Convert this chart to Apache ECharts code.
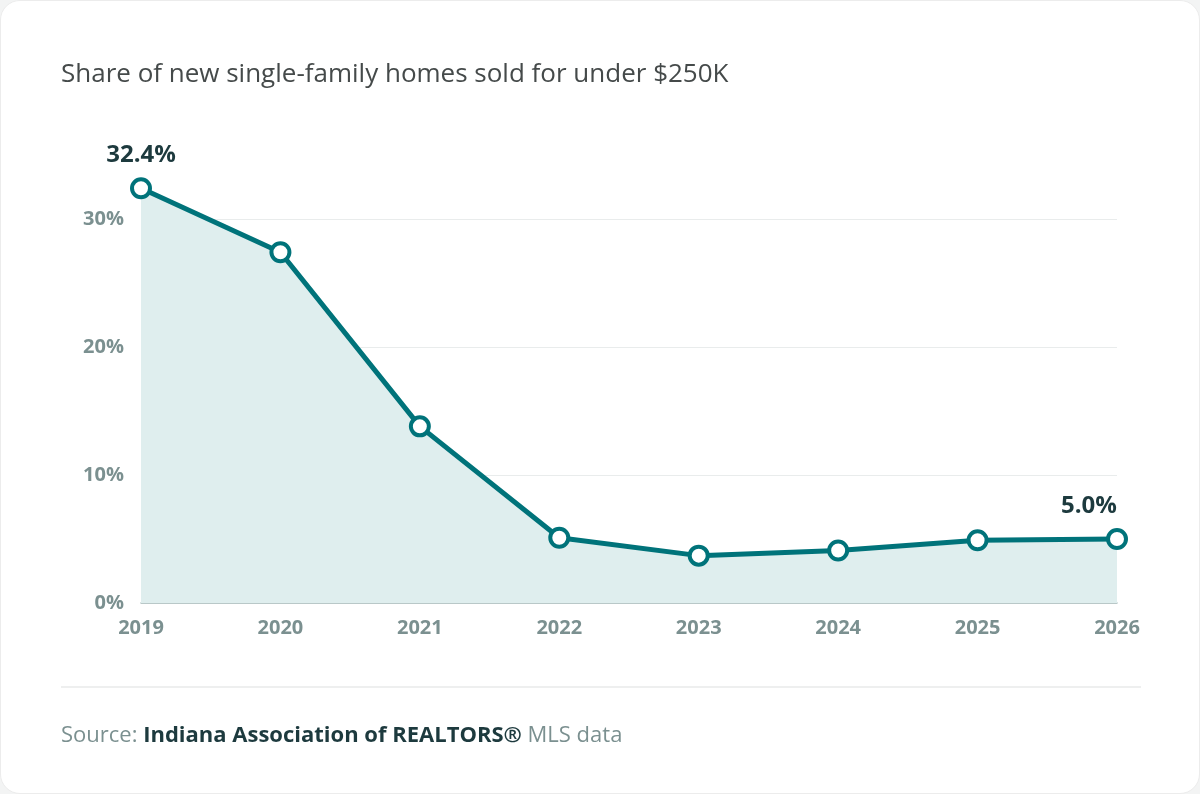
<!DOCTYPE html>
<html>
<head>
<meta charset="utf-8">
<script src="https://cdn.jsdelivr.net/npm/echarts@6/dist/echarts.min.js"></script>
<style>
  html, body { margin: 0; padding: 0; background: #f3f4f4; }
  #card { position: absolute; left: 0; top: 0; width: 1198px; height: 792px; background: #fff; border: 1px solid #ececec; border-radius: 20px; overflow: hidden; }
  #chart { width: 1198px; height: 792px; }
</style>
</head>
<body>
<div id="card"><div id="chart"></div></div>
<script>
(function() {
  'use strict';

  var years = ['2019', '2020', '2021', '2022', '2023', '2024', '2025', '2026'];
  var shareUnder250k = [32.4, 27.4, 13.8, 5.1, 3.7, 4.1, 4.9, 5.0];
  var yTicks = [0, 10, 20, 30];

  var teal = '#00737a';
  var greyText = '#7b9090';
  var font = '"Open Sans", "Noto Sans", sans-serif';

  var chart = echarts.init(document.getElementById('chart'), null, { renderer: 'canvas' });

  // only the first and last points carry a value label
  var lastIdx = shareUnder250k.length - 1;
  var seriesData = shareUnder250k.map(function(v, i) {
    var d = { value: v };
    if (i === 0) {
      d.label = { show: true, position: 'top', distance: 10 };
    } else if (i === lastIdx) {
      d.label = { show: true, position: 'top', distance: 10, offset: [-28, 0] };
    }
    return d;
  });

  chart.setOption({
    animation: false,
    textStyle: { fontFamily: font },
    title: [{
      text: 'Share of new single-family homes sold for under $250K',
      left: 60, top: 61, padding: 0,
      textStyle: { fontFamily: font, fontSize: 26, fontWeight: 'normal', color: '#454a4a' }
    }, {
      text: '{a|Source: }{b|Indiana Association of REALTORS®}{a| MLS data}',
      left: 60, top: 724, padding: 0,
      textStyle: {
        fontWeight: 'normal',
        rich: {
          a: { fontFamily: font, fontSize: 22, fontWeight: 'normal', color: greyText },
          b: { fontFamily: font, fontSize: 22, fontWeight: 'bold', color: '#1d3a3e' }
        }
      }
    }],
    graphic: [{
      type: 'line',
      shape: { x1: 60, y1: 686, x2: 1140, y2: 686 },
      style: { stroke: '#e8eaea', lineWidth: 1.5 }
    }],
    grid: { left: 140, right: 82, top: 154, bottom: 190, containLabel: false },
    xAxis: {
      type: 'category',
      data: years,
      boundaryGap: false,
      axisLine: { show: true, lineStyle: { color: '#a9bcbc', width: 1.5 } },
      axisTick: { show: false },
      axisLabel: { color: greyText, fontFamily: font, fontSize: 20, fontWeight: 'bold', margin: 15 }
    },
    yAxis: {
      type: 'value',
      min: 0,
      max: 35,
      interval: 10,
      axisLine: { show: false },
      axisTick: { show: false },
      axisLabel: {
        color: greyText, fontFamily: font, fontSize: 20, fontWeight: 'bold', margin: 17,
        showMaxLabel: false,
        formatter: function(v) { return yTicks.indexOf(v) >= 0 ? v + '%' : ''; }
      },
      splitLine: { show: true, showMaxLine: false, lineStyle: { color: '#e9ecec', width: 1 } }
    },
    series: [{
      type: 'line',
      data: seriesData,
      symbol: 'circle',
      symbolSize: 18,
      showAllSymbol: true,
      clip: false,
      lineStyle: { color: teal, width: 5 },
      itemStyle: { color: '#ffffff', borderColor: teal, borderWidth: 4 },
      areaStyle: { color: '#dfeeee', opacity: 1 },
      label: {
        show: false,
        formatter: function(p) { return p.value.toFixed(1) + '%'; },
        color: '#1d3a3e', fontFamily: font, fontSize: 24, fontWeight: 'bold'
      },
      z: 3
    }]
  });
})();
</script>
</body>
</html>
